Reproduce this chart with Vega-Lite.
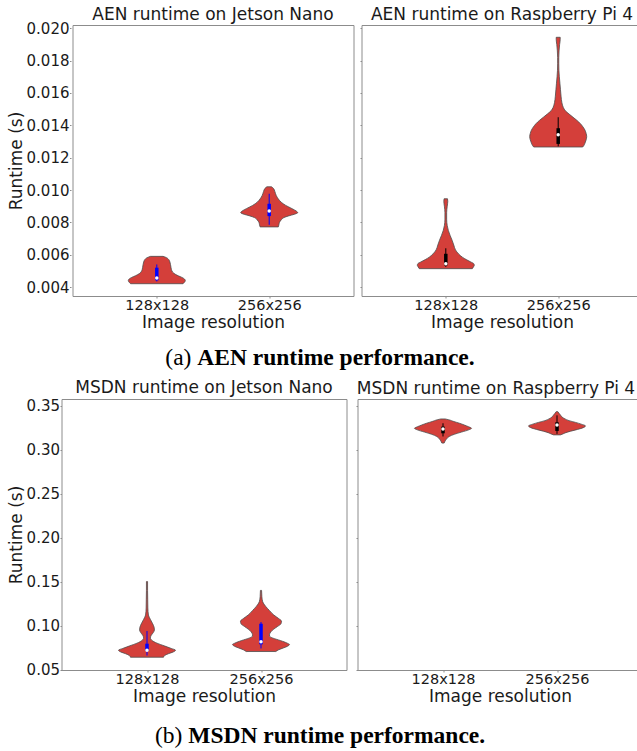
{
  "$schema": "https://vega.github.io/schema/vega-lite/v6.json",
  "padding": {"left": 6.5, "top": 5, "right": -6, "bottom": 0},
  "background": "white",
  "datasets": {
    "v": [
      {"p":"AJ","r":"128x128","y":0.00590,"w":0.22},{"p":"AJ","r":"128x128","y":0.00582,"w":0.34},{"p":"AJ","r":"128x128","y":0.00570,"w":0.42},{"p":"AJ","r":"128x128","y":0.00555,"w":0.46},{"p":"AJ","r":"128x128","y":0.00540,"w":0.48},{"p":"AJ","r":"128x128","y":0.00520,"w":0.50},{"p":"AJ","r":"128x128","y":0.00500,"w":0.53},{"p":"AJ","r":"128x128","y":0.00485,"w":0.60},{"p":"AJ","r":"128x128","y":0.00470,"w":0.75},{"p":"AJ","r":"128x128","y":0.00460,"w":0.88},{"p":"AJ","r":"128x128","y":0.00450,"w":0.97},{"p":"AJ","r":"128x128","y":0.00440,"w":1.00},{"p":"AJ","r":"128x128","y":0.00430,"w":0.97},{"p":"AJ","r":"128x128","y":0.00421,"w":0.92},
      {"p":"AJ","r":"256x256","y":0.01020,"w":0.08},{"p":"AJ","r":"256x256","y":0.01010,"w":0.15},{"p":"AJ","r":"256x256","y":0.00990,"w":0.20},{"p":"AJ","r":"256x256","y":0.00965,"w":0.25},{"p":"AJ","r":"256x256","y":0.00945,"w":0.32},{"p":"AJ","r":"256x256","y":0.00925,"w":0.42},{"p":"AJ","r":"256x256","y":0.00905,"w":0.58},{"p":"AJ","r":"256x256","y":0.00885,"w":0.80},{"p":"AJ","r":"256x256","y":0.00870,"w":0.95},{"p":"AJ","r":"256x256","y":0.00860,"w":1.00},{"p":"AJ","r":"256x256","y":0.00850,"w":0.88},{"p":"AJ","r":"256x256","y":0.00840,"w":0.68},{"p":"AJ","r":"256x256","y":0.00830,"w":0.52},{"p":"AJ","r":"256x256","y":0.00815,"w":0.42},{"p":"AJ","r":"256x256","y":0.00800,"w":0.36},{"p":"AJ","r":"256x256","y":0.00785,"w":0.34},{"p":"AJ","r":"256x256","y":0.00772,"w":0.32},
      {"p":"AR","r":"128x128","y":0.00946,"w":0.06},{"p":"AR","r":"128x128","y":0.00930,"w":0.07},{"p":"AR","r":"128x128","y":0.00900,"w":0.05},{"p":"AR","r":"128x128","y":0.00860,"w":0.03},{"p":"AR","r":"128x128","y":0.00820,"w":0.03},{"p":"AR","r":"128x128","y":0.00780,"w":0.05},{"p":"AR","r":"128x128","y":0.00750,"w":0.09},{"p":"AR","r":"128x128","y":0.00720,"w":0.15},{"p":"AR","r":"128x128","y":0.00690,"w":0.22},{"p":"AR","r":"128x128","y":0.00660,"w":0.28},{"p":"AR","r":"128x128","y":0.00630,"w":0.34},{"p":"AR","r":"128x128","y":0.00605,"w":0.45},{"p":"AR","r":"128x128","y":0.00585,"w":0.58},{"p":"AR","r":"128x128","y":0.00570,"w":0.72},{"p":"AR","r":"128x128","y":0.00555,"w":0.88},{"p":"AR","r":"128x128","y":0.00545,"w":0.98},{"p":"AR","r":"128x128","y":0.00535,"w":1.00},{"p":"AR","r":"128x128","y":0.00525,"w":0.97},{"p":"AR","r":"128x128","y":0.00514,"w":0.93},
      {"p":"AR","r":"256x256","y":0.01944,"w":0.07},{"p":"AR","r":"256x256","y":0.01930,"w":0.07},{"p":"AR","r":"256x256","y":0.01900,"w":0.05},{"p":"AR","r":"256x256","y":0.01860,"w":0.03},{"p":"AR","r":"256x256","y":0.01820,"w":0.02},{"p":"AR","r":"256x256","y":0.01780,"w":0.02},{"p":"AR","r":"256x256","y":0.01740,"w":0.025},{"p":"AR","r":"256x256","y":0.01700,"w":0.04},{"p":"AR","r":"256x256","y":0.01660,"w":0.06},{"p":"AR","r":"256x256","y":0.01620,"w":0.08},{"p":"AR","r":"256x256","y":0.01580,"w":0.10},{"p":"AR","r":"256x256","y":0.01540,"w":0.13},{"p":"AR","r":"256x256","y":0.01510,"w":0.18},{"p":"AR","r":"256x256","y":0.01490,"w":0.25},{"p":"AR","r":"256x256","y":0.01470,"w":0.38},{"p":"AR","r":"256x256","y":0.01450,"w":0.52},{"p":"AR","r":"256x256","y":0.01430,"w":0.66},{"p":"AR","r":"256x256","y":0.01410,"w":0.78},{"p":"AR","r":"256x256","y":0.01390,"w":0.87},{"p":"AR","r":"256x256","y":0.01370,"w":0.94},{"p":"AR","r":"256x256","y":0.01350,"w":0.98},{"p":"AR","r":"256x256","y":0.01330,"w":1.00},{"p":"AR","r":"256x256","y":0.01310,"w":0.98},{"p":"AR","r":"256x256","y":0.01290,"w":0.94},{"p":"AR","r":"256x256","y":0.01275,"w":0.90},{"p":"AR","r":"256x256","y":0.01266,"w":0.86},
      {"p":"MJ","r":"128x128","y":0.1500,"w":0.02},{"p":"MJ","r":"128x128","y":0.1400,"w":0.02},{"p":"MJ","r":"128x128","y":0.1300,"w":0.025},{"p":"MJ","r":"128x128","y":0.1200,"w":0.03},{"p":"MJ","r":"128x128","y":0.1120,"w":0.05},{"p":"MJ","r":"128x128","y":0.1070,"w":0.12},{"p":"MJ","r":"128x128","y":0.1020,"w":0.20},{"p":"MJ","r":"128x128","y":0.0980,"w":0.25},{"p":"MJ","r":"128x128","y":0.0950,"w":0.26},{"p":"MJ","r":"128x128","y":0.0920,"w":0.22},{"p":"MJ","r":"128x128","y":0.0890,"w":0.15},{"p":"MJ","r":"128x128","y":0.0860,"w":0.12},{"p":"MJ","r":"128x128","y":0.0830,"w":0.18},{"p":"MJ","r":"128x128","y":0.0800,"w":0.35},{"p":"MJ","r":"128x128","y":0.0770,"w":0.60},{"p":"MJ","r":"128x128","y":0.0740,"w":0.85},{"p":"MJ","r":"128x128","y":0.0720,"w":1.00},{"p":"MJ","r":"128x128","y":0.0700,"w":0.92},{"p":"MJ","r":"128x128","y":0.0680,"w":0.75},{"p":"MJ","r":"128x128","y":0.0660,"w":0.62},{"p":"MJ","r":"128x128","y":0.0640,"w":0.58},
      {"p":"MJ","r":"256x256","y":0.1400,"w":0.02},{"p":"MJ","r":"256x256","y":0.1330,"w":0.03},{"p":"MJ","r":"256x256","y":0.1270,"w":0.06},{"p":"MJ","r":"256x256","y":0.1220,"w":0.16},{"p":"MJ","r":"256x256","y":0.1170,"w":0.30},{"p":"MJ","r":"256x256","y":0.1120,"w":0.45},{"p":"MJ","r":"256x256","y":0.1080,"w":0.62},{"p":"MJ","r":"256x256","y":0.1050,"w":0.72},{"p":"MJ","r":"256x256","y":0.1020,"w":0.70},{"p":"MJ","r":"256x256","y":0.0990,"w":0.58},{"p":"MJ","r":"256x256","y":0.0960,"w":0.45},{"p":"MJ","r":"256x256","y":0.0930,"w":0.35},{"p":"MJ","r":"256x256","y":0.0900,"w":0.30},{"p":"MJ","r":"256x256","y":0.0880,"w":0.30},{"p":"MJ","r":"256x256","y":0.0860,"w":0.40},{"p":"MJ","r":"256x256","y":0.0830,"w":0.68},{"p":"MJ","r":"256x256","y":0.0800,"w":0.92},{"p":"MJ","r":"256x256","y":0.0785,"w":1.00},{"p":"MJ","r":"256x256","y":0.0765,"w":0.93},{"p":"MJ","r":"256x256","y":0.0745,"w":0.78},{"p":"MJ","r":"256x256","y":0.0725,"w":0.62},{"p":"MJ","r":"256x256","y":0.0705,"w":0.52},
      {"p":"MR","r":"128x128","y":0.3349,"w":0.08},{"p":"MR","r":"128x128","y":0.3340,"w":0.20},{"p":"MR","r":"128x128","y":0.3320,"w":0.38},{"p":"MR","r":"128x128","y":0.3300,"w":0.58},{"p":"MR","r":"128x128","y":0.3280,"w":0.75},{"p":"MR","r":"128x128","y":0.3260,"w":0.90},{"p":"MR","r":"128x128","y":0.3243,"w":1.00},{"p":"MR","r":"128x128","y":0.3225,"w":0.90},{"p":"MR","r":"128x128","y":0.3200,"w":0.65},{"p":"MR","r":"128x128","y":0.3175,"w":0.40},{"p":"MR","r":"128x128","y":0.3150,"w":0.22},{"p":"MR","r":"128x128","y":0.3120,"w":0.12},{"p":"MR","r":"128x128","y":0.3095,"w":0.07},{"p":"MR","r":"128x128","y":0.3075,"w":0.04},
      {"p":"MR","r":"256x256","y":0.3432,"w":0.03},{"p":"MR","r":"256x256","y":0.3410,"w":0.08},{"p":"MR","r":"256x256","y":0.3390,"w":0.13},{"p":"MR","r":"256x256","y":0.3370,"w":0.18},{"p":"MR","r":"256x256","y":0.3350,"w":0.28},{"p":"MR","r":"256x256","y":0.3330,"w":0.42},{"p":"MR","r":"256x256","y":0.3310,"w":0.65},{"p":"MR","r":"256x256","y":0.3290,"w":0.85},{"p":"MR","r":"256x256","y":0.3270,"w":1.00},{"p":"MR","r":"256x256","y":0.3250,"w":0.92},{"p":"MR","r":"256x256","y":0.3230,"w":0.72},{"p":"MR","r":"256x256","y":0.3210,"w":0.48},{"p":"MR","r":"256x256","y":0.3190,"w":0.28},{"p":"MR","r":"256x256","y":0.3175,"w":0.18},{"p":"MR","r":"256x256","y":0.3168,"w":0.12}
    ],
    "b": [
      {"p":"AJ","r":"128x128","lo":0.00435,"hi":0.00540,"q1":0.00442,"q3":0.00520,"med":0.00456},
      {"p":"AJ","r":"256x256","lo":0.00785,"hi":0.00977,"q1":0.00839,"q3":0.00915,"med":0.00870},
      {"p":"AR","r":"128x128","lo":0.00525,"hi":0.00640,"q1":0.00534,"q3":0.00606,"med":0.00544},
      {"p":"AR","r":"256x256","lo":0.01270,"hi":0.01450,"q1":0.01285,"q3":0.01382,"med":0.01341},
      {"p":"MJ","r":"128x128","lo":0.0660,"hi":0.0938,"q1":0.0711,"q3":0.0794,"med":0.0719},
      {"p":"MJ","r":"256x256","lo":0.0740,"hi":0.1040,"q1":0.0787,"q3":0.1021,"med":0.0816},
      {"p":"MR","r":"128x128","lo":0.3150,"hi":0.3300,"q1":0.3186,"q3":0.3262,"med":0.3236},
      {"p":"MR","r":"256x256","lo":0.3180,"hi":0.3390,"q1":0.3213,"q3":0.3311,"med":0.3281}
    ]
  },
  "spacing": 0,
  "vconcat": [
    {
      "spacing": 0,
      "hconcat": [
        {
          "width": 9, "height": 271,
          "view": {"stroke": null},
          "data": {"name": "b"}, "transform": [{"filter": "datum.p == 'AJ'"}],
          "mark": {"type": "point", "opacity": 0},
          "encoding": {"y": {"field": "med", "type": "quantitative", "scale": {"domain": [0.00345, 0.0202], "nice": false, "zero": false}, "axis": {"values": [0.004,0.006,0.008,0.010,0.012,0.014,0.016,0.018,0.020], "format": ".3f", "titlePadding": 0.5, "offset": -9.5}, "title": "Runtime (s)"}}
        },
        {
          "spacing": 4,
          "hconcat": [
            {
              "width": 281, "height": 271,
              "title": "AEN runtime on Jetson Nano",
              "resolve": {"scale": {"x": "independent"}},
              "layer": [
                {"data": {"name": "v"}, "transform": [{"filter": "datum.p == 'AJ' && datum.r == '128x128'"}],
                 "mark": {"type": "area", "orient": "horizontal", "interpolate": "monotone", "fill": "#d43f3a", "stroke": "#4d4d4d", "strokeWidth": 0.8},
                 "encoding": {
                   "y": {"field": "y", "type": "quantitative", "scale": {"domain": [0.00345, 0.0202], "nice": false, "zero": false}, "axis": null},
                   "x": {"field": "w", "type": "quantitative", "stack": "center", "scale": {"domain": [-0.979, 3.951], "nice": false, "zero": false}, "axis": null}
                 }},
                {"data": {"name": "v"}, "transform": [{"filter": "datum.p == 'AJ' && datum.r == '256x256'"}],
                 "mark": {"type": "area", "orient": "horizontal", "interpolate": "monotone", "fill": "#d43f3a", "stroke": "#4d4d4d", "strokeWidth": 0.8},
                 "encoding": {
                   "y": {"field": "y", "type": "quantitative", "scale": {"domain": [0.00345, 0.0202], "nice": false, "zero": false}, "axis": null},
                   "x": {"field": "w", "type": "quantitative", "stack": "center", "scale": {"domain": [-2.951, 1.979], "nice": false, "zero": false}, "axis": null}
                 }},
                {"data": {"name": "b"}, "transform": [{"filter": "datum.p == 'AJ'"}],
                 "encoding": {"x": {"field": "r", "type": "nominal", "scale": {"type": "point", "padding": 0.75, "domain": ["128x128", "256x256"]}, "axis": {"labelAngle": 0}, "title": "Image resolution"}},
                 "layer": [
                   {"mark": {"type": "rule", "color": "#0000ff", "strokeWidth": 1},
                    "encoding": {"y": {"field": "lo", "type": "quantitative", "scale": {"domain": [0.00345, 0.0202], "nice": false, "zero": false}, "axis": null}, "y2": {"field": "hi"}}},
                   {"mark": {"type": "rule", "color": "#0000ff", "strokeWidth": 3.5},
                    "encoding": {"y": {"field": "q1", "type": "quantitative", "scale": {"domain": [0.00345, 0.0202], "nice": false, "zero": false}, "axis": null}, "y2": {"field": "q3"}}},
                   {"mark": {"type": "point", "shape": "circle", "filled": true, "fill": "white", "size": 12, "strokeWidth": 0, "opacity": 1},
                    "encoding": {"y": {"field": "med", "type": "quantitative", "scale": {"domain": [0.00345, 0.0202], "nice": false, "zero": false}, "axis": null}}}
                 ]}
              ]
            },
            {
              "width": 281, "height": 271,
              "title": "AEN runtime on Raspberry Pi 4",
              "resolve": {"scale": {"x": "independent"}},
              "layer": [
                {"data": {"name": "v"}, "transform": [{"filter": "datum.p == 'AR' && datum.r == '128x128'"}],
                 "mark": {"type": "area", "orient": "horizontal", "interpolate": "monotone", "fill": "#d43f3a", "stroke": "#4d4d4d", "strokeWidth": 0.8},
                 "encoding": {
                   "y": {"field": "y", "type": "quantitative", "scale": {"domain": [0.00345, 0.0202], "nice": false, "zero": false}, "axis": {"values": [0.004,0.006,0.008,0.010,0.012,0.014,0.016,0.018,0.020], "labels": false}, "title": null},
                   "x": {"field": "w", "type": "quantitative", "stack": "center", "scale": {"domain": [-0.979, 3.951], "nice": false, "zero": false}, "axis": null}
                 }},
                {"data": {"name": "v"}, "transform": [{"filter": "datum.p == 'AR' && datum.r == '256x256'"}],
                 "mark": {"type": "area", "orient": "horizontal", "interpolate": "monotone", "fill": "#d43f3a", "stroke": "#4d4d4d", "strokeWidth": 0.8},
                 "encoding": {
                   "y": {"field": "y", "type": "quantitative", "scale": {"domain": [0.00345, 0.0202], "nice": false, "zero": false}, "axis": {"values": [0.004,0.006,0.008,0.010,0.012,0.014,0.016,0.018,0.020], "labels": false}, "title": null},
                   "x": {"field": "w", "type": "quantitative", "stack": "center", "scale": {"domain": [-2.951, 1.979], "nice": false, "zero": false}, "axis": null}
                 }},
                {"data": {"name": "b"}, "transform": [{"filter": "datum.p == 'AR'"}],
                 "encoding": {"x": {"field": "r", "type": "nominal", "scale": {"type": "point", "padding": 0.75, "domain": ["128x128", "256x256"]}, "axis": {"labelAngle": 0}, "title": "Image resolution"}},
                 "layer": [
                   {"mark": {"type": "rule", "color": "#000000", "strokeWidth": 1},
                    "encoding": {"y": {"field": "lo", "type": "quantitative", "scale": {"domain": [0.00345, 0.0202], "nice": false, "zero": false}, "axis": {"values": [0.004,0.006,0.008,0.010,0.012,0.014,0.016,0.018,0.020], "labels": false}, "title": null}, "y2": {"field": "hi"}}},
                   {"mark": {"type": "rule", "color": "#000000", "strokeWidth": 3.5},
                    "encoding": {"y": {"field": "q1", "type": "quantitative", "scale": {"domain": [0.00345, 0.0202], "nice": false, "zero": false}, "axis": {"values": [0.004,0.006,0.008,0.010,0.012,0.014,0.016,0.018,0.020], "labels": false}, "title": null}, "y2": {"field": "q3"}}},
                   {"mark": {"type": "point", "shape": "circle", "filled": true, "fill": "white", "size": 12, "strokeWidth": 0, "opacity": 1},
                    "encoding": {"y": {"field": "med", "type": "quantitative", "scale": {"domain": [0.00345, 0.0202], "nice": false, "zero": false}, "axis": {"values": [0.004,0.006,0.008,0.010,0.012,0.014,0.016,0.018,0.020], "labels": false}, "title": null}}}
                 ]}
              ]
            }
          ]
        }
      ]
    },
    {
      "width": 517, "height": 47,
      "view": {"stroke": null},
      "data": {"values": [{"a": "(a)", "b": "AEN runtime performance."}]},
      "layer": [
        {"mark": {"type": "text", "align": "right", "baseline": "middle", "dx": -128.6, "dy": 3.5, "font": "Liberation Serif", "fontSize": 23.5, "color": "#000000"}, "encoding": {"text": {"field": "a"}}},
        {"mark": {"type": "text", "align": "left", "baseline": "middle", "dx": -122.7, "dy": 3.5, "font": "Liberation Serif", "fontSize": 23.5, "fontWeight": "bold", "color": "#000000"}, "encoding": {"text": {"field": "b"}}}
      ]
    },
    {
      "spacing": 7,
      "hconcat": [
        {
          "width": 285, "height": 271,
          "title": "MSDN runtime on Jetson Nano",
          "resolve": {"scale": {"x": "independent"}},
          "layer": [
            {"data": {"name": "v"}, "transform": [{"filter": "datum.p == 'MJ' && datum.r == '128x128'"}],
             "mark": {"type": "area", "orient": "horizontal", "interpolate": "monotone", "fill": "#d43f3a", "stroke": "#4d4d4d", "strokeWidth": 0.8},
             "encoding": {
               "y": {"field": "y", "type": "quantitative", "scale": {"domain": [0.0495, 0.3576], "nice": false, "zero": false}, "axis": {"values": [0.05,0.10,0.15,0.20,0.25,0.30,0.35], "format": ".2f", "titlePadding": 0.5}, "title": "Runtime (s)"},
               "x": {"field": "w", "type": "quantitative", "stack": "center", "scale": {"domain": [-1.0, 4.0], "nice": false, "zero": false}, "axis": null}
             }},
            {"data": {"name": "v"}, "transform": [{"filter": "datum.p == 'MJ' && datum.r == '256x256'"}],
             "mark": {"type": "area", "orient": "horizontal", "interpolate": "monotone", "fill": "#d43f3a", "stroke": "#4d4d4d", "strokeWidth": 0.8},
             "encoding": {
               "y": {"field": "y", "type": "quantitative", "scale": {"domain": [0.0495, 0.3576], "nice": false, "zero": false}, "axis": {"values": [0.05,0.10,0.15,0.20,0.25,0.30,0.35], "format": ".2f", "titlePadding": 0.5}, "title": "Runtime (s)"},
               "x": {"field": "w", "type": "quantitative", "stack": "center", "scale": {"domain": [-3.0, 2.0], "nice": false, "zero": false}, "axis": null}
             }},
            {"data": {"name": "b"}, "transform": [{"filter": "datum.p == 'MJ'"}],
             "encoding": {"x": {"field": "r", "type": "nominal", "scale": {"type": "point", "padding": 0.75, "domain": ["128x128", "256x256"]}, "axis": {"labelAngle": 0}, "title": "Image resolution"}},
             "layer": [
               {"mark": {"type": "rule", "color": "#0000ff", "strokeWidth": 1},
                "encoding": {"y": {"field": "lo", "type": "quantitative", "scale": {"domain": [0.0495, 0.3576], "nice": false, "zero": false}, "axis": {"values": [0.05,0.10,0.15,0.20,0.25,0.30,0.35], "format": ".2f", "titlePadding": 0.5}, "title": "Runtime (s)"}, "y2": {"field": "hi"}}},
               {"mark": {"type": "rule", "color": "#0000ff", "strokeWidth": 3.5},
                "encoding": {"y": {"field": "q1", "type": "quantitative", "scale": {"domain": [0.0495, 0.3576], "nice": false, "zero": false}, "axis": {"values": [0.05,0.10,0.15,0.20,0.25,0.30,0.35], "format": ".2f", "titlePadding": 0.5}, "title": "Runtime (s)"}, "y2": {"field": "q3"}}},
               {"mark": {"type": "point", "shape": "circle", "filled": true, "fill": "white", "size": 12, "strokeWidth": 0, "opacity": 1},
                "encoding": {"y": {"field": "med", "type": "quantitative", "scale": {"domain": [0.0495, 0.3576], "nice": false, "zero": false}, "axis": {"values": [0.05,0.10,0.15,0.20,0.25,0.30,0.35], "format": ".2f", "titlePadding": 0.5}, "title": "Runtime (s)"}}}
             ]}
          ]
        },
        {
          "width": 285, "height": 271,
          "title": {"text": "MSDN runtime on Raspberry Pi 4", "dx": -4},
          "resolve": {"scale": {"x": "independent"}},
          "layer": [
            {"data": {"name": "v"}, "transform": [{"filter": "datum.p == 'MR' && datum.r == '128x128'"}],
             "mark": {"type": "area", "orient": "horizontal", "interpolate": "monotone", "fill": "#d43f3a", "stroke": "#4d4d4d", "strokeWidth": 0.8},
             "encoding": {
               "y": {"field": "y", "type": "quantitative", "scale": {"domain": [0.0495, 0.3576], "nice": false, "zero": false}, "axis": {"values": [0.05,0.10,0.15,0.20,0.25,0.30,0.35], "labels": false}, "title": null},
               "x": {"field": "w", "type": "quantitative", "stack": "center", "scale": {"domain": [-1.0, 4.0], "nice": false, "zero": false}, "axis": null}
             }},
            {"data": {"name": "v"}, "transform": [{"filter": "datum.p == 'MR' && datum.r == '256x256'"}],
             "mark": {"type": "area", "orient": "horizontal", "interpolate": "monotone", "fill": "#d43f3a", "stroke": "#4d4d4d", "strokeWidth": 0.8},
             "encoding": {
               "y": {"field": "y", "type": "quantitative", "scale": {"domain": [0.0495, 0.3576], "nice": false, "zero": false}, "axis": {"values": [0.05,0.10,0.15,0.20,0.25,0.30,0.35], "labels": false}, "title": null},
               "x": {"field": "w", "type": "quantitative", "stack": "center", "scale": {"domain": [-3.0, 2.0], "nice": false, "zero": false}, "axis": null}
             }},
            {"data": {"name": "b"}, "transform": [{"filter": "datum.p == 'MR'"}],
             "encoding": {"x": {"field": "r", "type": "nominal", "scale": {"type": "point", "padding": 0.75, "domain": ["128x128", "256x256"]}, "axis": {"labelAngle": 0}, "title": "Image resolution"}},
             "layer": [
               {"mark": {"type": "rule", "color": "#000000", "strokeWidth": 1},
                "encoding": {"y": {"field": "lo", "type": "quantitative", "scale": {"domain": [0.0495, 0.3576], "nice": false, "zero": false}, "axis": {"values": [0.05,0.10,0.15,0.20,0.25,0.30,0.35], "labels": false}, "title": null}, "y2": {"field": "hi"}}},
               {"mark": {"type": "rule", "color": "#000000", "strokeWidth": 3.5},
                "encoding": {"y": {"field": "q1", "type": "quantitative", "scale": {"domain": [0.0495, 0.3576], "nice": false, "zero": false}, "axis": {"values": [0.05,0.10,0.15,0.20,0.25,0.30,0.35], "labels": false}, "title": null}, "y2": {"field": "q3"}}},
               {"mark": {"type": "point", "shape": "circle", "filled": true, "fill": "white", "size": 12, "strokeWidth": 0, "opacity": 1},
                "encoding": {"y": {"field": "med", "type": "quantitative", "scale": {"domain": [0.0495, 0.3576], "nice": false, "zero": false}, "axis": {"values": [0.05,0.10,0.15,0.20,0.25,0.30,0.35], "labels": false}, "title": null}}}
             ]}
          ]
        }
      ]
    },
    {
      "width": 517, "height": 42,
      "view": {"stroke": null},
      "data": {"values": [{"a": "(b)", "b": "MSDN runtime performance."}]},
      "layer": [
        {"mark": {"type": "text", "align": "right", "baseline": "middle", "dx": -137.7, "dy": 10, "font": "Liberation Serif", "fontSize": 23.5, "color": "#000000"}, "encoding": {"text": {"field": "a"}}},
        {"mark": {"type": "text", "align": "left", "baseline": "middle", "dx": -131.8, "dy": 10, "font": "Liberation Serif", "fontSize": 23.5, "fontWeight": "bold", "color": "#000000"}, "encoding": {"text": {"field": "b"}}}
      ]
    }
  ],
  "config": {
    "font": "DejaVu Sans",
    "view": {"stroke": "#8c8c8c", "strokeWidth": 1},
    "axis": {"labelFont": "DejaVu Sans", "titleFont": "DejaVu Sans", "labelFontSize": 15, "titleFontSize": 17, "titleFontWeight": "normal", "labelColor": "#1a1a1a", "titleColor": "#1a1a1a", "tickColor": "#8c8c8c", "tickSize": 1.5, "domain": false, "grid": false, "labelPadding": 0.5},
    "axisX": {"labelFontSize": 14.5, "labelPadding": 0, "titlePadding": 3, "tickSize": 2},
    "title": {"font": "DejaVu Sans", "fontSize": 17, "fontWeight": "normal", "color": "#1a1a1a", "offset": 1.4, "baseline": "alphabetic", "frame": "group"}
  }
}
